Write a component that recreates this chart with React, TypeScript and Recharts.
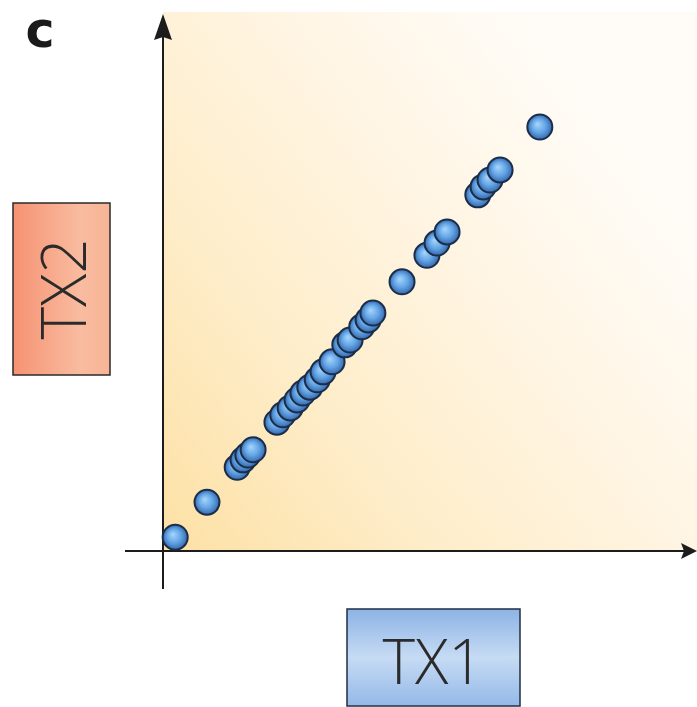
import { ScatterChart, Scatter, XAxis, YAxis } from "recharts";

// TX1 / TX2 expression values (arbitrary units, 0-100)
const tx1 = [
  2.3, 8.3, 14.0, 15.1, 16.0, 17.0, 21.5, 22.6, 24.0, 25.3, 26.4, 27.7, 29.1,
  30.2, 31.9, 34.3, 35.3, 37.5, 38.7, 39.6, 45.1, 49.8, 51.7, 53.6, 59.4, 60.4,
  61.7, 63.6, 71.1,
];
const tx2 = [
  2.6, 9.2, 15.8, 17.2, 18.1, 19.1, 24.3, 25.7, 27.0, 28.5, 29.8, 30.9, 32.3,
  33.8, 35.7, 38.9, 39.8, 42.3, 43.6, 44.9, 50.8, 55.8, 58.1, 60.2, 67.2, 68.7,
  70.0, 71.9, 80.0,
];
const xLabel = "TX1";
const yLabel = "TX2";
const panel = "c";

const data = tx1.map((x, i) => ({ x, y: tx2[i] }));

const W = 697;
const H = 707;
const M = { top: 21, right: 4, bottom: 156, left: 163 };
const originX = M.left;
const originY = H - M.bottom;

const Ball = (props: any) => (
  <circle
    cx={props.cx}
    cy={props.cy}
    r={12.5}
    fill="url(#ball)"
    stroke="#1b2d48"
    strokeWidth={2}
  />
);

export default function App() {
  return (
    <div style={{ position: "absolute", left: 0, top: 0, width: W, height: H, background: "#fff" }}>
      <svg width={W} height={H} style={{ position: "absolute", left: 0, top: 0 }}>
        <defs>
          <linearGradient id="bg" x1="0" y1="1" x2="0.9" y2="0.3">
            <stop offset="0%" stopColor="#fde0a4" />
            <stop offset="35%" stopColor="#feedc9" />
            <stop offset="70%" stopColor="#fff5e4" />
            <stop offset="100%" stopColor="#fffcf7" />
          </linearGradient>
          <linearGradient id="redBox" x1="0" y1="0" x2="1" y2="0">
            <stop offset="0%" stopColor="#f69273" />
            <stop offset="70%" stopColor="#f9bca0" />
            <stop offset="100%" stopColor="#f8b395" />
          </linearGradient>
          <linearGradient id="blueBox" x1="0" y1="0" x2="0" y2="1">
            <stop offset="0%" stopColor="#8db3e5" />
            <stop offset="50%" stopColor="#c6dbf4" />
            <stop offset="100%" stopColor="#94b9e8" />
          </linearGradient>
        </defs>
        <rect x={originX} y={12} width={W - originX} height={originY - 12} fill="url(#bg)" />
        <line x1={125} y1={originY} x2={684} y2={originY} stroke="#1c1c1c" strokeWidth={2} />
        <polygon points={`697,${originY} 681,${originY - 8} 684,${originY} 681,${originY + 8}`} fill="#1c1c1c" />
        <line x1={originX} y1={589} x2={originX} y2={28} stroke="#1c1c1c" strokeWidth={2} />
        <polygon points={`${originX},14 ${originX - 9},40 ${originX},37 ${originX + 9},40`} fill="#1c1c1c" />
        <text
          x={40}
          y={47}
          textAnchor="middle"
          fontFamily="'DejaVu Sans', sans-serif"
          fontWeight="bold"
          fontSize={49}
          fill="#1a1a1a"
        >
          {panel}
        </text>
        <rect x={13} y={203} width={97} height={172} fill="url(#redBox)" stroke="#2a2a2a" strokeWidth={1.5} />
        <text
          x={0}
          y={0}
          transform="translate(62,289) rotate(-90)"
          textAnchor="middle"
          dominantBaseline="central"
          fontFamily="'Open Sans', sans-serif"
          fontWeight={300}
          fontSize={62}
          fill="#2b2b2b"
        >
          {yLabel}
        </text>
        <rect x={347} y={609} width={173} height={97} fill="url(#blueBox)" stroke="#1f2f45" strokeWidth={1.5} />
        <text
          x={433}
          y={660}
          textAnchor="middle"
          dominantBaseline="central"
          fontFamily="'Open Sans', sans-serif"
          fontWeight={300}
          fontSize={62}
          fill="#2b2b2b"
        >
          {xLabel}
        </text>
      </svg>
      <div style={{ position: "absolute", left: 0, top: 0 }}>
        <ScatterChart width={W} height={H} margin={M}>
          <defs>
            <radialGradient id="ball" cx="50%" cy="50%" r="50%" fx="40%" fy="38%">
              <stop offset="0%" stopColor="#a8d6fb" />
              <stop offset="55%" stopColor="#64a6e6" />
              <stop offset="100%" stopColor="#3669ad" />
            </radialGradient>
          </defs>
          <XAxis type="number" dataKey="x" domain={[0, 100]} hide />
          <YAxis type="number" dataKey="y" domain={[0, 100]} hide />
          <Scatter data={data} shape={Ball} isAnimationActive={false} />
        </ScatterChart>
      </div>
    </div>
  );
}
